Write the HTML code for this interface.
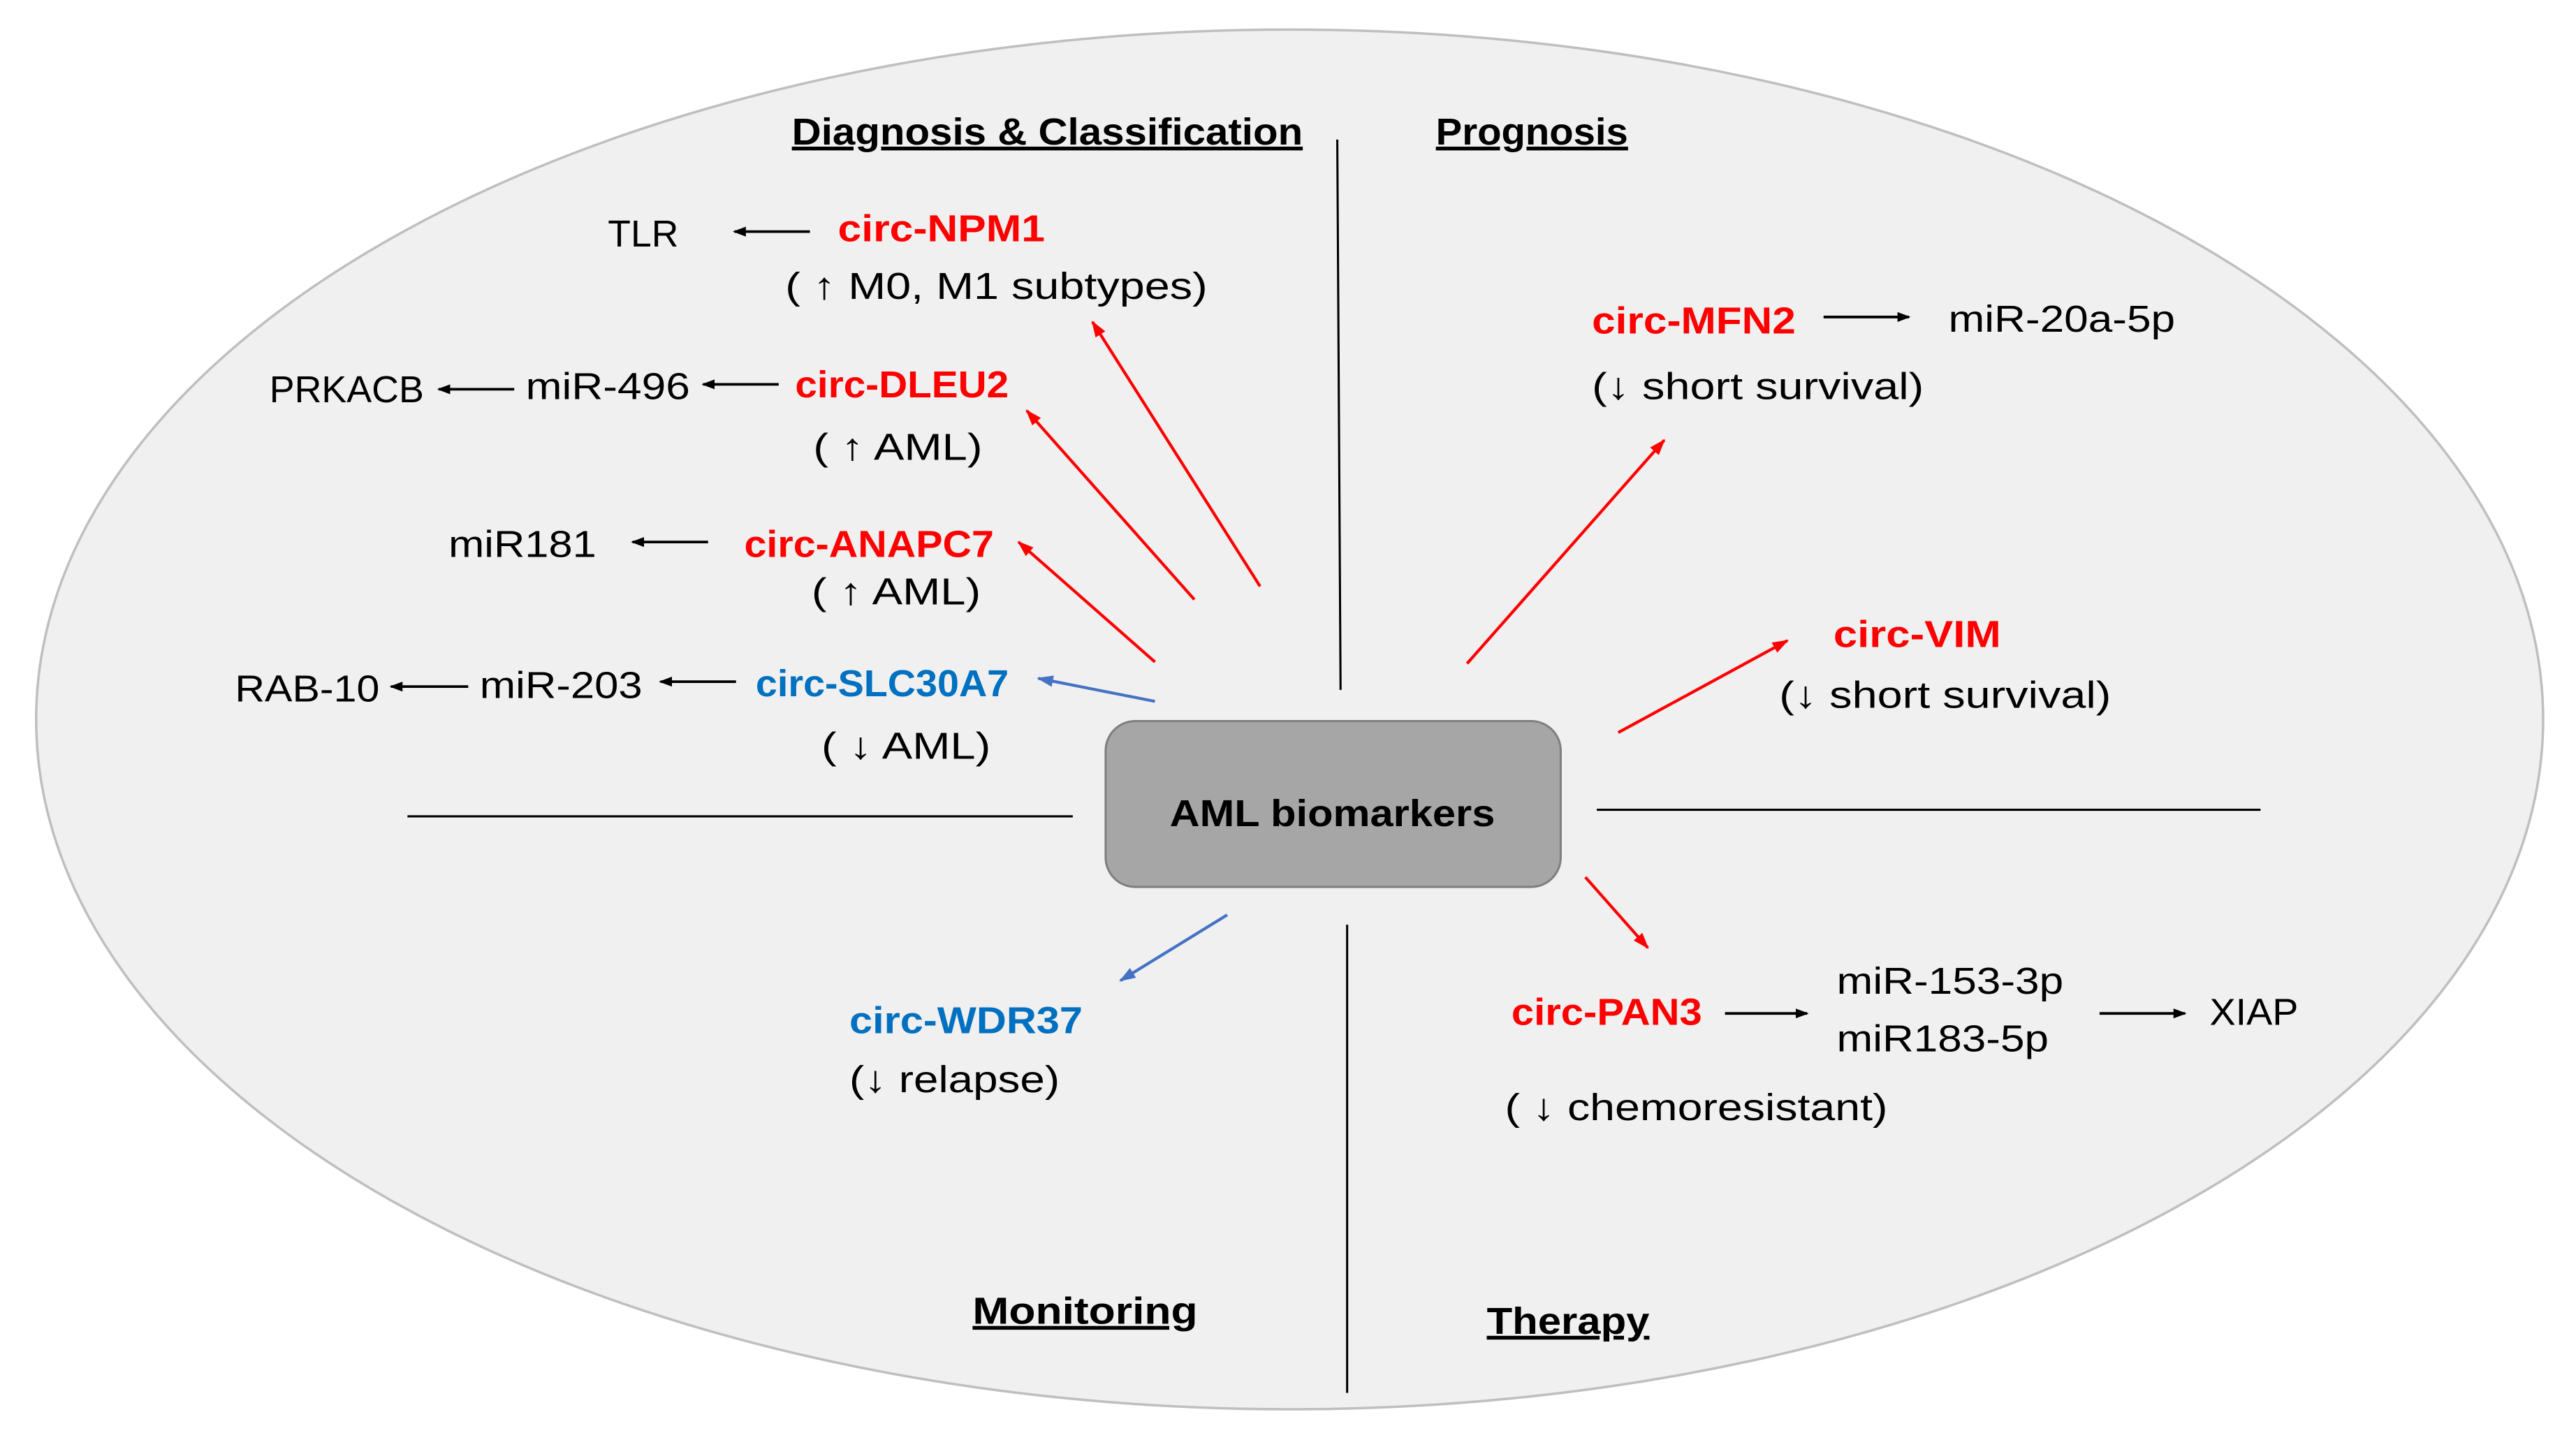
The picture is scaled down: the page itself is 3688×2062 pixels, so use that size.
<!DOCTYPE html>
<html><head><meta charset="utf-8"><style>html,body{margin:0;padding:0;background:#fff}svg{display:block}</style></head>
<body>
<svg xmlns="http://www.w3.org/2000/svg" width="3688" height="2062" viewBox="0 0 1568 876.7">
<defs>
<marker id="ab" markerWidth="8" markerHeight="8" refX="7" refY="4" orient="auto" markerUnits="userSpaceOnUse"><path d="M0,1 L8,4 L0,7 Z" fill="#000"/></marker>
<marker id="ar" markerWidth="10" markerHeight="8" refX="9" refY="4" orient="auto" markerUnits="userSpaceOnUse"><path d="M0,0.5 L10,4 L0,7.5 Z" fill="#ff0000"/></marker>
<marker id="abl" markerWidth="10" markerHeight="8" refX="9" refY="4" orient="auto" markerUnits="userSpaceOnUse"><path d="M0,0.5 L10,4 L0,7.5 Z" fill="#4472c4"/></marker>
</defs>
<rect width="1568" height="877" fill="#fff"/>
<ellipse cx="785" cy="438" rx="763" ry="420" fill="#f0f0f0" stroke="#bfbfbf" stroke-width="1.5"/>
<g stroke="#000" stroke-width="1.3">
<line x1="814" y1="85" x2="816" y2="420"/>
<line x1="820" y1="563" x2="820" y2="848"/>
<line x1="248" y1="497" x2="653" y2="497"/>
<line x1="972" y1="493" x2="1376" y2="493"/>
</g>
<rect x="673" y="439" width="277" height="101" rx="18" fill="#a6a6a6" stroke="#7f7f7f" stroke-width="1.3"/>
<g font-family="Liberation Sans, sans-serif" font-size="23">
<text x="811" y="503" text-anchor="middle" font-weight="bold" textLength="198" lengthAdjust="spacingAndGlyphs">AML biomarkers</text>
<g font-weight="bold" text-decoration="underline">
<text x="482" y="88" textLength="311" lengthAdjust="spacingAndGlyphs">Diagnosis &amp; Classification</text>
<text x="874" y="88" textLength="117" lengthAdjust="spacingAndGlyphs">Prognosis</text>
<text x="592" y="806" textLength="137" lengthAdjust="spacingAndGlyphs">Monitoring</text>
<text x="905" y="812" textLength="99" lengthAdjust="spacingAndGlyphs">Therapy</text>
</g>
<g fill="#ff0000" font-weight="bold">
<text x="510" y="147" textLength="126" lengthAdjust="spacingAndGlyphs">circ-NPM1</text>
<text x="484" y="242" textLength="130" lengthAdjust="spacingAndGlyphs">circ-DLEU2</text>
<text x="453" y="339" textLength="152" lengthAdjust="spacingAndGlyphs">circ-ANAPC7</text>
<text x="969" y="203" textLength="124" lengthAdjust="spacingAndGlyphs">circ-MFN2</text>
<text x="1116" y="394" textLength="102" lengthAdjust="spacingAndGlyphs">circ-VIM</text>
<text x="920" y="624" textLength="116" lengthAdjust="spacingAndGlyphs">circ-PAN3</text>
</g>
<g fill="#0070c0" font-weight="bold">
<text x="460" y="424" textLength="154" lengthAdjust="spacingAndGlyphs">circ-SLC30A7</text>
<text x="517" y="629" textLength="142" lengthAdjust="spacingAndGlyphs">circ-WDR37</text>
</g>
<text x="370" y="150" textLength="43" lengthAdjust="spacingAndGlyphs">TLR</text>
<text x="478" y="182" textLength="257" lengthAdjust="spacingAndGlyphs">( ↑ M0, M1 subtypes)</text>
<text x="164" y="245" textLength="94" lengthAdjust="spacingAndGlyphs">PRKACB</text>
<text x="320" y="243" textLength="100" lengthAdjust="spacingAndGlyphs">miR-496</text>
<text x="495" y="280" textLength="103" lengthAdjust="spacingAndGlyphs">( ↑ AML)</text>
<text x="273" y="339" textLength="90" lengthAdjust="spacingAndGlyphs">miR181</text>
<text x="494" y="368" textLength="103" lengthAdjust="spacingAndGlyphs">( ↑ AML)</text>
<text x="143" y="427" textLength="88" lengthAdjust="spacingAndGlyphs">RAB-10</text>
<text x="292" y="425" textLength="99" lengthAdjust="spacingAndGlyphs">miR-203</text>
<text x="500" y="462" textLength="103" lengthAdjust="spacingAndGlyphs">( ↓ AML)</text>
<text x="1186" y="202" textLength="138" lengthAdjust="spacingAndGlyphs">miR-20a-5p</text>
<text x="969" y="243" textLength="202" lengthAdjust="spacingAndGlyphs">(↓ short survival)</text>
<text x="1083" y="431" textLength="202" lengthAdjust="spacingAndGlyphs">(↓ short survival)</text>
<text x="1118" y="605" textLength="138" lengthAdjust="spacingAndGlyphs">miR-153-3p</text>
<text x="1118" y="640" textLength="129" lengthAdjust="spacingAndGlyphs">miR183-5p</text>
<text x="1345" y="624" textLength="54" lengthAdjust="spacingAndGlyphs">XIAP</text>
<text x="916" y="682" textLength="233" lengthAdjust="spacingAndGlyphs">( ↓ chemoresistant)</text>
<text x="517" y="665" textLength="128" lengthAdjust="spacingAndGlyphs">(↓ relapse)</text>
</g>
<g stroke="#000" stroke-width="1.6" marker-end="url(#ab)">
<line x1="493" y1="141" x2="447" y2="141"/>
<line x1="474" y1="234" x2="428" y2="234"/>
<line x1="313" y1="237" x2="267" y2="237"/>
<line x1="431" y1="330" x2="385" y2="330"/>
<line x1="448" y1="415" x2="402" y2="415"/>
<line x1="285" y1="418" x2="238" y2="418"/>
<line x1="1110" y1="193" x2="1162" y2="193"/>
<line x1="1050" y1="617" x2="1100" y2="617"/>
<line x1="1278" y1="617" x2="1330" y2="617"/>
</g>
<g stroke="#ff0000" stroke-width="1.8" marker-end="url(#ar)">
<line x1="767" y1="357" x2="665" y2="196"/>
<line x1="727" y1="365" x2="625" y2="250"/>
<line x1="703" y1="403" x2="620" y2="330"/>
<line x1="893" y1="404" x2="1013" y2="268"/>
<line x1="985" y1="446" x2="1088" y2="390"/>
<line x1="965" y1="534" x2="1003" y2="577"/>
</g>
<g stroke="#4472c4" stroke-width="1.8" marker-end="url(#abl)">
<line x1="703" y1="427" x2="632" y2="413"/>
<line x1="747" y1="557" x2="682" y2="597"/>
</g>
</svg>
</body></html>
